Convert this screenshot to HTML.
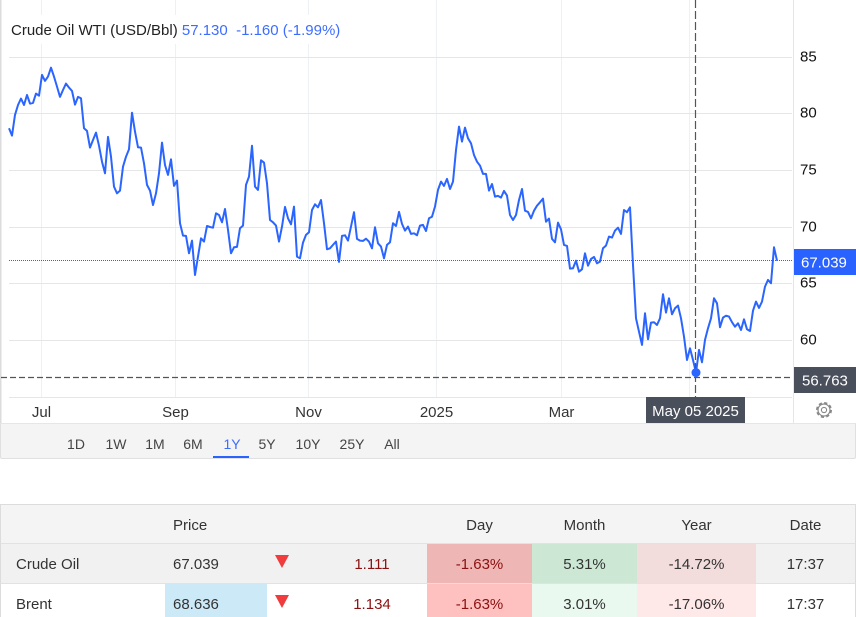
<!DOCTYPE html>
<html lang="en">
<head>
<meta charset="utf-8">
<title>Crude Oil WTI Chart</title>
<style>
html{margin:0;padding:0;background:#fff;width:856px;height:617px;overflow:hidden;}
body{margin:0;padding:0;background:#fff;width:856px;height:617px;overflow:hidden;position:relative;font-family:"Liberation Sans",Arial,sans-serif;color:#333;}
#chart{position:absolute;left:0;top:0;width:856px;height:424px;display:block;}
#chart text{font-family:"Liberation Sans",Arial,sans-serif;font-size:15px;}
.title{position:absolute;left:9px;top:15px;height:29px;line-height:32px;padding:0 3px 0 2px;background:#fff;font-size:15px;color:#222;white-space:pre;}
.title span{color:#3d6dff;}
.range-bar{position:absolute;left:0;top:423px;width:854px;height:34px;background:#f4f4f4;border:1px solid #e0e0e0;border-top:1px solid #e6e6e6;border-radius:0 0 2px 2px;}
.range-btn{position:absolute;top:0;height:34px;line-height:41px;font-size:14px;color:#444;text-align:center;transform:translateX(-50%);cursor:pointer;white-space:nowrap;}
.range-btn.on{color:#3d6dff;}
.range-underline{position:absolute;left:212px;top:32px;width:36px;height:2px;background:#2962ff;}
table{position:absolute;left:0;top:504px;width:856px;border-collapse:separate;border-spacing:0;table-layout:fixed;font-size:15px;color:#333;border-top:1px solid #dcdcdc;}
th,td{padding:2px 0 0 0;font-weight:normal;text-align:center;box-sizing:border-box;}
th{height:39px;background:#f4f4f4;border-bottom:1px solid #dfe2e8;}
td{height:40px;border-bottom:1px solid #dfe2e8;}
tr>*:first-child{border-left:1px solid #dcdcdc;text-align:left;padding-left:15px;}
tr>*:last-child{border-right:1px solid #dcdcdc;}
.price-h,.price{text-align:left;padding-left:8px;}
.row1 td{background:#f1f1f2;}
.tri{display:inline-block;width:0;height:0;border-left:7px solid transparent;border-right:7px solid transparent;border-top:13px solid #f03c3c;position:relative;top:-1px;left:0;}
.chg{color:#8b1010;padding-left:20px;}
.row1 td.d{background:#efb6b6;color:#8b1010;}
.row1 td.m{background:#cce8d4;}
.row1 td.y{background:#f2dcdc;}
.row2 td.d{background:#ffc0c0;color:#8b1010;}
.row2 td.m{background:#e9f9ef;}
.row2 td.y{background:#ffe8e8;}
.row2 td.p{background:#cce9f8;}
</style>
</head>
<body>
<svg id="chart" viewBox="0 0 856 424" xmlns="http://www.w3.org/2000/svg">
  <rect x="0" y="0" width="1.5" height="424" fill="#dcdcdc"></rect>
  <g id="vgrid"></g>
  <g id="hgrid"></g>
  <line x1="793.5" y1="0" x2="793.5" y2="423" stroke="#e6e6e6"></line>
  <line id="lastLine" x1="9" x2="793" stroke="#2962ff" stroke-dasharray="1 1"></line>
  <path id="series" fill="none" stroke="#2b65ff" stroke-width="2" stroke-linejoin="round"></path>
  <line id="crossV" y1="0" y2="397" stroke="#555" stroke-width="1.2" stroke-dasharray="8 3"></line>
  <line id="crossH" x1="1" x2="793" stroke="#555" stroke-width="1.2" stroke-dasharray="6 3"></line>
  <circle id="hoverDot" r="4.5" fill="#2b65ff"></circle>
  <g id="ylabels"></g>
  <g id="xlabels"></g>
  <g>
    <rect id="lastBox" x="794" width="62" height="26" fill="#2962ff"></rect>
    <text id="lastText" x="801" fill="#fff"></text>
  </g>
  <g>
    <rect id="crossBox" x="794" width="62" height="26" fill="#4a4f5c"></rect>
    <text id="crossText" x="802" fill="#fff"></text>
  </g>
  <g>
    <rect x="646" y="397" width="99" height="26" fill="#4a4f5c"></rect>
    <text id="crossDate" x="695.5" y="416" fill="#fff" text-anchor="middle"></text>
  </g>
  <g transform="translate(824 410)" style="cursor:pointer">
    <circle r="6" fill="none" stroke="#888" stroke-width="1.2"></circle>
    <circle r="7.2" fill="none" stroke="#888" stroke-width="1.6" stroke-dasharray="3.2 2.45"></circle>
    <circle r="2.6" fill="none" stroke="#888" stroke-width="1.1"></circle>
  </g>
</svg>

<div class="title">Crude Oil WTI (USD/Bbl) <span>57.130  -1.160 (-1.99%)</span></div>

<div class="range-bar">
  <div class="range-btn" style="left:75px">1D</div>
  <div class="range-btn" style="left:115px">1W</div>
  <div class="range-btn" style="left:154px">1M</div>
  <div class="range-btn" style="left:192px">6M</div>
  <div class="range-btn on" style="left:231px">1Y</div>
  <div class="range-btn" style="left:266px">5Y</div>
  <div class="range-btn" style="left:307px">10Y</div>
  <div class="range-btn" style="left:351px">25Y</div>
  <div class="range-btn" style="left:391px">All</div>
  <div class="range-underline"></div>
</div>

<table>
  <colgroup><col style="width:165px"><col style="width:102px"><col style="width:30px"><col style="width:130px"><col style="width:105px"><col style="width:105px"><col style="width:119px"><col style="width:100px"></colgroup>
  <tr>
    <th></th>
    <th class="price-h">Price</th>
    <th></th>
    <th></th>
    <th>Day</th>
    <th>Month</th>
    <th>Year</th>
    <th>Date</th>
  </tr>
  <tr class="row1">
    <td>Crude Oil</td>
    <td class="price p">67.039</td>
    <td><span class="tri"></span></td>
    <td class="chg">1.111</td>
    <td class="d">-1.63%</td>
    <td class="m">5.31%</td>
    <td class="y">-14.72%</td>
    <td>17:37</td>
  </tr>
  <tr class="row2">
    <td>Brent</td>
    <td class="price p">68.636</td>
    <td><span class="tri"></span></td>
    <td class="chg">1.134</td>
    <td class="d">-1.63%</td>
    <td class="m">3.01%</td>
    <td class="y">-17.06%</td>
    <td>17:37</td>
  </tr>
</table>

<script>
const prices = [
78.71,78.07,79.89,80.77,81.33,80.77,81.65,80.89,80.95,81.77,81.59,83.42,82.89,83.27,84.06,83.27,82.39,81.48,82.09,82.65,
82.30,82.01,80.80,81.48,81.36,78.71,78.48,77.01,77.68,78.33,77.18,75.77,74.74,77.95,76.21,73.57,72.98,73.22,75.33,76.21,
76.86,80.09,78.42,77.04,77.01,75.63,73.72,73.22,71.95,72.98,74.74,77.45,75.48,74.60,75.98,73.63,74.10,70.34,69.25,69.22,
67.69,68.81,65.78,67.40,69.01,68.72,70.10,70.01,69.95,71.22,71.07,70.42,71.60,69.75,67.69,68.22,68.25,69.90,70.13,73.72,
74.45,77.18,73.57,73.28,75.89,75.69,73.86,70.63,70.42,70.13,68.72,70.04,71.78,70.78,70.25,71.81,67.40,67.25,68.63,69.31,
69.54,71.51,72.01,71.75,72.39,70.34,68.04,68.13,68.43,68.72,66.93,69.22,69.28,68.81,70.04,71.31,68.96,68.81,68.78,68.98,
68.72,68.13,69.98,68.57,68.28,67.25,68.43,68.66,70.34,70.10,71.34,70.28,69.69,70.04,69.40,69.45,69.28,70.13,70.19,69.66,
70.78,
70.92,71.81,73.28,74.01,73.63,74.25,73.36,74.01,76.80,78.86,77.54,78.77,77.83,77.39,76.36,75.77,75.42,74.69,74.69,73.22,
73.80,72.69,72.75,72.60,73.19,72.78,71.07,70.63,71.07,72.39,73.36,71.45,71.34,70.78,71.45,71.89,72.19,72.51,70.48,70.75,
68.96,68.66,70.40,69.81,68.43,68.34,66.34,66.37,67.04,66.07,66.28,67.69,66.60,67.19,67.37,66.81,66.96,68.13,68.37,69.16,
69.07,69.69,69.95,69.40,71.51,71.31,71.75,
66.66,61.96,60.78,59.61,62.40,60.11,61.58,61.61,61.37,61.96,64.08,62.46,63.72,62.31,62.84,63.08,61.96,60.34,58.28,59.31,
58.28,57.17,59.17,58.08,60.05,61.08,61.96,63.72,63.28,61.17,62.02,62.19,62.11,61.61,61.22,61.52,60.93,61.87,60.99,60.84,
62.63,63.43,62.87,63.43,64.75,65.34,65.05,68.22,67.04
];
const yTickValues = [85, 80, 75, 70, 65, 60, 55];
const yTickLabels = ["85", "80", "75", "70", "65", "60", ""];
const xTickLabels = ["Jul", "Sep", "Nov", "2025", "Mar", ""];
const xTickIndexes = [11, 55.5, 100, 142.5, 184.2, 226.9];
const lastPrice = 67.039;
const crossPrice = 56.763;
const crossIndex = 229;
const crossDateLabel = "May 05 2025";

function xScale(i) { return 9 + 3 * i; }
function yScale(v) { return 57 + (85 - v) * 11.34; }
const NS = "http://www.w3.org/2000/svg";
const byId = function (id) { return document.getElementById(id); };

yTickValues.forEach(function (v, k) {
  const y = Math.floor(yScale(v)) + 0.5;
  const line = document.createElementNS(NS, "line");
  line.setAttribute("x1", 9);
  line.setAttribute("x2", 792);
  line.setAttribute("y1", y);
  line.setAttribute("y2", y);
  line.setAttribute("stroke", "#e6e6e6");
  
  
  byId("hgrid").appendChild(line);
  if (yTickLabels[k]) {
    const t = document.createElementNS(NS, "text");
    t.setAttribute("x", 800);
    t.setAttribute("y", y + 4);
    t.setAttribute("fill", "#111");
    t.textContent = yTickLabels[k];
    
    
    byId("ylabels").appendChild(t);
  }
});

xTickIndexes.forEach(function (idx, k) {
  const x = Math.round(xScale(idx)) - 0.5;
  const line = document.createElementNS(NS, "line");
  line.setAttribute("x1", x);
  line.setAttribute("x2", x);
  line.setAttribute("y1", 0);
  line.setAttribute("y2", 397);
  line.setAttribute("stroke", "#edf1f4");
  
  
  byId("vgrid").appendChild(line);
  if (xTickLabels[k]) {
    const t = document.createElementNS(NS, "text");
    t.setAttribute("x", x);
    t.setAttribute("y", 417);
    t.setAttribute("fill", "#333");
    t.setAttribute("text-anchor", "middle");
    t.textContent = xTickLabels[k];
    
    
    byId("xlabels").appendChild(t);
  }
});

byId("series").setAttribute("d", prices.map(function (v, i) {
  return (i ? "L" : "M") + xScale(i) + " " + yScale(v).toFixed(1);
}).join(""));

const lastY = Math.floor(yScale(lastPrice)) + 0.5;
byId("lastLine").setAttribute("y1", lastY);
byId("lastLine").setAttribute("y2", lastY);
byId("lastBox").setAttribute("y", lastY - 11.5);
byId("lastText").setAttribute("y", lastY + 7);
byId("lastText").textContent = lastPrice.toFixed(3);

const crossY = Math.floor(yScale(crossPrice)) + 0.5;
byId("crossH").setAttribute("y1", crossY);
byId("crossH").setAttribute("y2", crossY);
byId("crossBox").setAttribute("y", crossY - 10.5);
byId("crossText").setAttribute("y", crossY + 8);
byId("crossText").textContent = crossPrice.toFixed(3);

const crossX = xScale(crossIndex) - 0.5;
byId("crossV").setAttribute("x1", crossX);
byId("crossV").setAttribute("x2", crossX);
byId("hoverDot").setAttribute("cx", xScale(crossIndex));
byId("hoverDot").setAttribute("cy", yScale(prices[crossIndex]));
byId("crossDate").textContent = crossDateLabel;
</script>
</body>
</html>
